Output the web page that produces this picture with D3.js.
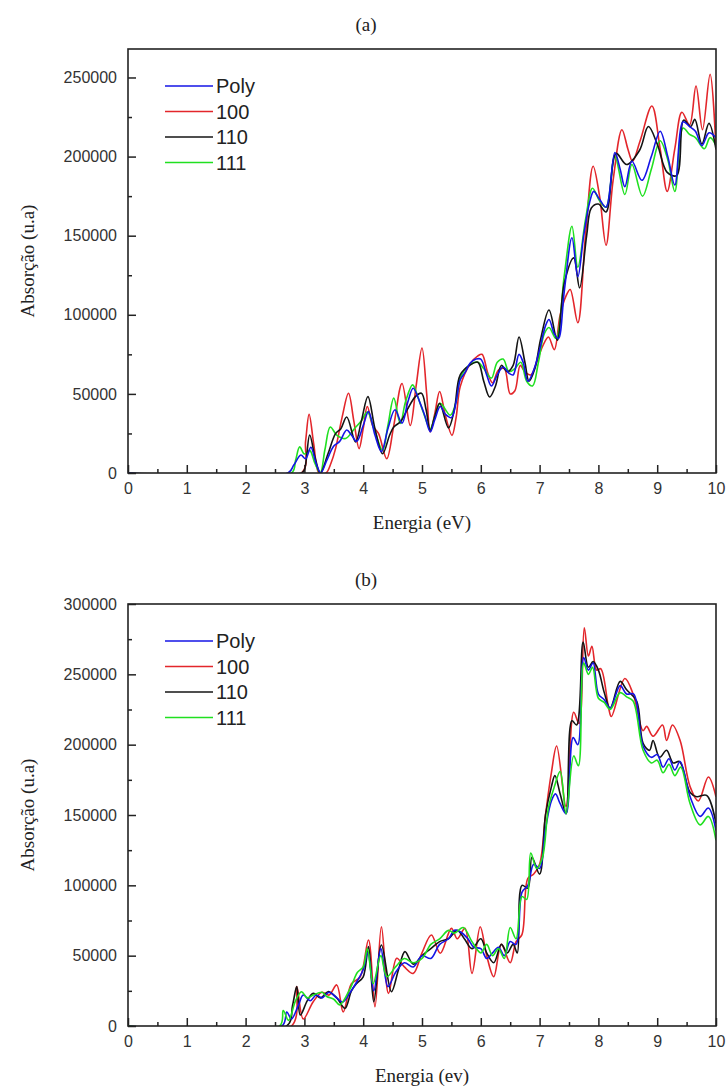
<!DOCTYPE html>
<html>
<head>
<meta charset="utf-8">
<script src="https://cdn.jsdelivr.net/npm/d3@7"></script>
<style>
  body { margin: 0; background: #fff; }
</style>
</head>
<body>
<div id="chart"></div>
<script>
// [energia (eV), absorção (x1000 u.a)]
const seriesNames = ["Poly", "100", "110", "111"]
const xTicks = [0, 1, 2, 3, 4, 5, 6, 7, 8, 9, 10]
const yTicksA = [0, 50000, 100000, 150000, 200000, 250000]
const yTicksB = [0, 50000, 100000, 150000, 200000, 250000, 300000]

// panel (a)
const polyA = [[0,0],[2.72,0],[2.82,5],[2.94,11.4],[3.02,9],[3.11,16.3],[3.2,6],[3.28,0],[3.38,8],[3.5,17],[3.6,20],[3.72,27.2],[3.8,24],[3.89,20],[4.0,30],[4.09,38.8],[4.2,24],[4.31,13.5],[4.42,28],[4.54,40],[4.66,31.5],[4.76,45],[4.85,53.6],[4.97,44],[5.05,36],[5.14,26.1],[5.22,34],[5.31,42],[5.4,37],[5.5,35],[5.58,45],[5.65,58.9],[5.74,64],[5.82,69.5],[5.92,72],[6.0,72],[6.1,62],[6.18,55],[6.28,62],[6.38,67],[6.48,63],[6.55,62],[6.65,75],[6.72,70],[6.8,58],[6.9,65],[7.0,78],[7.1,93],[7.16,97],[7.25,88],[7.32,85],[7.42,115],[7.55,148.7],[7.65,124],[7.75,150],[7.85,171],[7.92,178],[8.02,173],[8.13,168],[8.28,202.5],[8.37,192],[8.45,181],[8.57,197],[8.74,185],[8.9,200],[9.05,216],[9.18,200],[9.3,182],[9.44,222],[9.55,219],[9.65,216],[9.76,207],[9.88,215],[10.0,212]]
const s100A = [[0,0],[2.95,0],[3.02,20],[3.08,37.1],[3.16,18],[3.25,0],[3.37,0],[3.45,6],[3.53,15.4],[3.64,35],[3.75,50.4],[3.84,33],[3.93,15.4],[4.0,28],[4.07,42],[4.16,30],[4.26,25],[4.4,9],[4.52,30],[4.66,56.6],[4.8,30],[4.9,55],[5.0,79],[5.08,50],[5.14,26],[5.22,38],[5.3,51.5],[5.4,36],[5.51,23.8],[5.58,35],[5.65,54.6],[5.82,69],[5.95,74],[6.02,75],[6.12,63],[6.2,57],[6.3,65],[6.4,66],[6.5,50],[6.58,52],[6.67,68],[6.75,64],[6.85,62],[6.95,70],[7.05,80],[7.15,86],[7.25,78],[7.35,100],[7.45,112],[7.52,116],[7.65,95],[7.78,150],[7.91,193.9],[8.02,175],[8.13,144],[8.25,185],[8.4,217],[8.5,205],[8.58,197],[8.71,210],[8.91,232],[9.05,205],[9.17,178],[9.3,205],[9.42,228],[9.55,220],[9.66,244.6],[9.77,217],[9.9,252],[10.0,204.5]]
const s110A = [[0,0],[2.95,0],[3.0,2],[3.09,24],[3.18,10],[3.27,0],[3.4,12],[3.53,24.9],[3.62,28],[3.72,35.4],[3.87,19.6],[3.97,33],[4.08,48.3],[4.2,28],[4.33,12.2],[4.45,24],[4.52,29.1],[4.63,32.3],[4.75,40],[4.88,48],[4.99,50.4],[5.07,40],[5.14,27],[5.22,36],[5.3,44.1],[5.45,28.5],[5.55,40],[5.65,62],[5.82,68.3],[5.95,70],[6.05,58],[6.15,48],[6.25,55],[6.35,68],[6.45,64],[6.55,68],[6.65,86],[6.75,70],[6.82,58],[6.92,66],[7.02,85],[7.16,103],[7.3,84],[7.42,120],[7.58,136],[7.68,117],[7.8,150],[7.88,167.5],[8.0,170],[8.13,165],[8.3,202],[8.48,195],[8.7,204],[8.85,219],[9.0,208],[9.17,190],[9.33,188],[9.45,223],[9.57,219],[9.64,223.5],[9.76,208],[9.88,221],[10.0,204.5]]
const s111A = [[0,0],[2.78,0],[2.85,8],[2.92,16.5],[3.0,12],[3.09,14.3],[3.18,6],[3.27,0],[3.35,15],[3.44,29.1],[3.55,24],[3.7,21.8],[3.85,28],[3.97,33],[4.07,38.6],[4.2,26],[4.33,14.3],[4.42,30],[4.52,47.3],[4.63,31.3],[4.72,45],[4.84,55.7],[4.93,48],[5.02,38.6],[5.14,28],[5.22,36],[5.31,44.1],[5.48,36.5],[5.58,45],[5.65,60],[5.8,68],[5.95,70],[6.05,66],[6.18,60],[6.28,70],[6.38,72],[6.48,64],[6.58,66],[6.68,70],[6.78,58],[6.88,55],[6.98,70],[7.08,88],[7.16,92],[7.28,85],[7.42,125],[7.55,156],[7.65,130],[7.78,160],[7.9,180],[8.02,172],[8.13,168],[8.28,200],[8.45,176],[8.57,195],[8.75,175],[8.9,192],[9.05,210],[9.18,198],[9.3,178],[9.44,218],[9.55,214],[9.65,212],[9.8,205],[9.9,212],[10.0,207]]

// panel (b)
const polyB = [[0,0],[2.62,0],[2.7,10],[2.78,5],[2.9,15],[2.98,22],[3.1,18],[3.2,22],[3.3,20],[3.42,24],[3.55,20],[3.65,17],[3.78,24],[3.9,32],[4.0,40],[4.08,52],[4.18,25],[4.3,55],[4.42,28],[4.55,38],[4.7,45],[4.85,42],[5.0,50],[5.15,48],[5.3,58],[5.45,62],[5.55,68],[5.65,67],[5.78,62],[5.88,56],[6.0,55],[6.1,48],[6.2,52],[6.3,56],[6.4,50],[6.5,60],[6.6,58],[6.7,95],[6.8,100],[6.9,115],[7.0,112],[7.1,140],[7.2,160],[7.27,165],[7.35,158],[7.45,151],[7.57,205],[7.65,200],[7.75,262],[7.83,253],[7.91,258],[8.0,236],[8.1,232],[8.2,226],[8.37,242],[8.48,236],[8.6,236],[8.76,199],[8.9,191],[9.0,193],[9.1,184],[9.2,190],[9.3,182],[9.39,188],[9.56,163],[9.73,149],[9.87,155],[10.0,139]]
const s100B = [[0,0],[2.78,0],[2.87,28],[2.98,5],[3.15,17.3],[3.3,24],[3.42,22],[3.55,29.2],[3.66,10],[3.8,30],[3.95,35],[4.09,61.1],[4.2,13.7],[4.31,70.6],[4.43,23.2],[4.57,48.1],[4.7,42],[4.85,37.4],[5.0,52],[5.16,64.7],[5.31,51.7],[5.5,69.4],[5.6,62],[5.73,69.4],[5.85,37.4],[5.99,70.6],[6.1,50],[6.22,35],[6.35,58],[6.5,45],[6.6,60],[6.7,65],[6.8,105],[6.9,108],[7.0,115],[7.1,150],[7.2,180],[7.29,199],[7.45,156],[7.58,223],[7.67,215],[7.76,283],[7.83,263],[7.89,270],[7.97,253],[8.04,254],[8.17,227],[8.22,220],[8.45,247],[8.59,236],[8.76,210],[8.82,213],[8.93,206],[9.09,214],[9.16,203],[9.26,214],[9.39,203],[9.56,170],[9.7,160],[9.87,177],[10.0,163]]
const s110B = [[0,0],[2.7,0],[2.8,15],[2.87,28],[2.93,7.8],[3.05,18],[3.15,23.2],[3.28,20],[3.4,24.4],[3.55,20],[3.69,12.6],[3.8,25],[3.89,30.3],[4.0,35],[4.09,56.4],[4.18,17.3],[4.31,57.6],[4.48,24.4],[4.6,40],[4.71,52.9],[4.85,44],[5.0,50],[5.15,55],[5.3,60],[5.45,62],[5.6,68],[5.72,62],[5.85,55],[6.0,62],[6.1,52],[6.22,45],[6.35,58],[6.45,52],[6.55,58],[6.62,52],[6.7,100],[6.8,98],[6.87,120],[7.0,108],[7.1,150],[7.2,170],[7.26,178],[7.35,165],[7.45,151],[7.55,217],[7.63,214],[7.74,273],[7.83,255],[7.91,259],[8.0,253],[8.1,237],[8.2,226],[8.37,245],[8.48,239],[8.65,231],[8.76,201],[8.87,196],[8.93,203],[9.04,191],[9.16,196],[9.27,187],[9.38,188],[9.56,166],[9.67,163],[9.84,164],[10.0,144]]
const s111B = [[0,0],[2.58,0],[2.64,11],[2.73,4],[2.85,18],[2.95,24.4],[3.05,20],[3.15,22],[3.3,24],[3.38,21],[3.5,19],[3.6,15],[3.78,26.8],[3.9,38],[4.0,42],[4.07,55],[4.17,30],[4.3,50],[4.4,35],[4.55,42],[4.7,48],[4.85,45],[5.0,48],[5.15,58],[5.3,62],[5.45,68],[5.55,66],[5.7,70],[5.85,60],[6.0,52],[6.1,58],[6.2,50],[6.3,55],[6.4,48],[6.5,70],[6.6,62],[6.7,92],[6.78,90],[6.85,123],[6.95,112],[7.05,120],[7.15,155],[7.25,170],[7.35,181],[7.45,151],[7.58,192],[7.66,185],[7.75,258],[7.83,250],[7.9,255],[8.0,233],[8.1,230],[8.2,225],[8.37,237],[8.48,234],[8.59,231],[8.76,196],[8.9,187],[9.0,189],[9.1,180],[9.2,186],[9.3,178],[9.4,184],[9.56,158],[9.73,143],[9.87,149],[10.0,132]]

const COLORS = { "Poly": "#1414e6", "100": "#e3262b", "110": "#141414", "111": "#20e020" }
const WIDTH = 728, HEIGHT = 1088
const LEFT = 128, RIGHT = 716

const panels = [
    { id: "a", title: "(a)", xLabel: "Energia (eV)", top: 49, bottom: 473, yMax: 268000, yTicks: yTicksA,
      data: { "Poly": polyA, "100": s100A, "110": s110A, "111": s111A }, order: ["100", "111", "110", "Poly"] },
    { id: "b", title: "(b)", xLabel: "Energia (ev)", top: 604, bottom: 1026, yMax: 300000, yTicks: yTicksB,
      data: { "Poly": polyB, "100": s100B, "110": s110B, "111": s111B }, order: ["100", "110", "Poly", "111"] }
]

const svg = d3.select("#chart").append("svg")
    .attr("width", WIDTH)
    .attr("height", HEIGHT)
    .style("font-family", "'Liberation Sans', Arial, sans-serif")

const x = d3.scaleLinear().domain([0, 10]).range([LEFT, RIGHT])

panels.forEach(p => {
    const y = d3.scaleLinear().domain([0, p.yMax]).range([p.bottom, p.top])
    const g = svg.append("g")

    g.append("clipPath").attr("id", "clip-" + p.id)
      .append("rect")
        .attr("x", LEFT).attr("y", p.top)
        .attr("width", RIGHT - LEFT).attr("height", p.bottom - p.top)

    // minor ticks
    g.append("g")
        .attr("transform", `translate(0,${p.bottom})`)
        .call(d3.axisBottom(x).tickValues(d3.range(0.5, 10, 1)).tickSizeInner(-4).tickSizeOuter(0).tickFormat(""))
        .call(a => a.select(".domain").remove())
    g.append("g")
        .attr("transform", `translate(${LEFT},0)`)
        .call(d3.axisLeft(y).tickValues(d3.range(25000, p.yMax, 50000)).tickSizeInner(-4).tickSizeOuter(0).tickFormat(""))
        .call(a => a.select(".domain").remove())

    // major ticks
    const xAxis = g.append("g")
        .attr("transform", `translate(0,${p.bottom})`)
        .call(d3.axisBottom(x).tickValues(xTicks).tickSizeInner(-8).tickSizeOuter(0).tickPadding(10).tickFormat(d3.format("d")))
    const yAxis = g.append("g")
        .attr("transform", `translate(${LEFT},0)`)
        .call(d3.axisLeft(y).tickValues(p.yTicks).tickSizeInner(-8).tickSizeOuter(0).tickPadding(11).tickFormat(d3.format("d")))
    ;[xAxis, yAxis].forEach(a => {
        a.select(".domain").remove()
        a.selectAll("text").attr("font-size", 16).attr("fill", "#333")
            .attr("font-family", "'Liberation Sans', Arial, sans-serif")
    })
    g.selectAll(".tick line").attr("stroke", "#222").attr("stroke-width", 1.5)

    // lines
    const line = d3.line()
        .x(d => x(d[0]))
        .y(d => y(d[1] * 1000))
        .curve(d3.curveCatmullRom.alpha(0.5))
    p.order.forEach(name => {
        g.append("path")
            .datum(p.data[name])
            .attr("clip-path", `url(#clip-${p.id})`)
            .attr("fill", "none")
            .attr("stroke", COLORS[name])
            .attr("stroke-width", 1.6)
            .attr("stroke-linejoin", "round")
            .attr("d", line)
    })

    // frame
    g.append("rect")
        .attr("x", LEFT).attr("y", p.top)
        .attr("width", RIGHT - LEFT).attr("height", p.bottom - p.top)
        .attr("fill", "none").attr("stroke", "#222").attr("stroke-width", 1.6)

    // legend
    const legend = g.append("g").attr("transform", `translate(165,${p.top + 37})`)
    seriesNames.forEach((name, i) => {
        legend.append("line")
            .attr("x1", 0).attr("x2", 48)
            .attr("y1", i * 25.5).attr("y2", i * 25.5)
            .attr("stroke", COLORS[name]).attr("stroke-width", 1.6)
        legend.append("text")
            .attr("x", 51).attr("y", i * 25.5)
            .attr("dy", "0.36em")
            .attr("font-size", 20)
            .attr("fill", "#222")
            .text(name)
    })

    // titles
    g.append("text")
        .attr("x", 366).attr("y", p.top - 18)
        .attr("text-anchor", "middle")
        .attr("font-family", "'Liberation Serif', 'Times New Roman', serif")
        .attr("font-size", 19).attr("fill", "#222")
        .text(p.title)
    g.append("text")
        .attr("x", (LEFT + RIGHT) / 2).attr("y", p.bottom + 56)
        .attr("text-anchor", "middle")
        .attr("font-family", "'Liberation Serif', 'Times New Roman', serif")
        .attr("font-size", 19).attr("fill", "#222")
        .text(p.xLabel)
    g.append("text")
        .attr("transform", `translate(34,${(p.top + p.bottom) / 2}) rotate(-90)`)
        .attr("text-anchor", "middle")
        .attr("font-family", "'Liberation Serif', 'Times New Roman', serif")
        .attr("font-size", 19).attr("fill", "#222")
        .text("Absorção (u.a)")
})
</script>
</body>
</html>
